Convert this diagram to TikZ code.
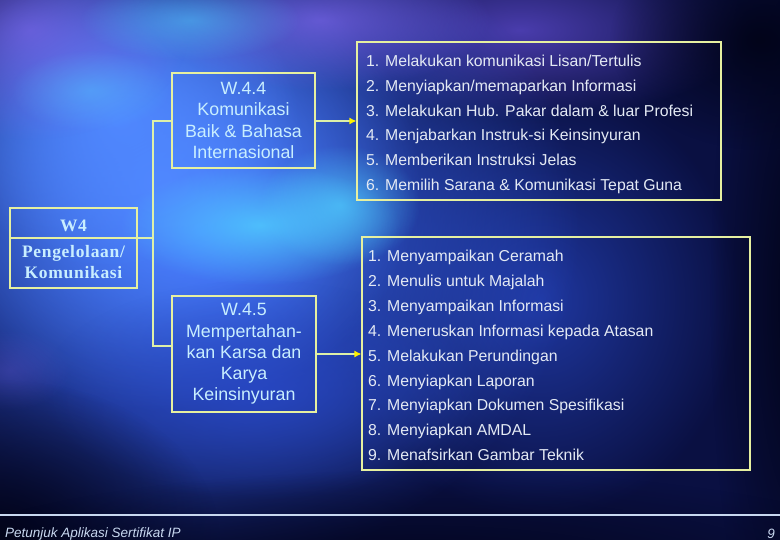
\documentclass[tikz,border=0pt]{standalone}
\usepackage{fontspec}
\setmainfont{Liberation Sans}
\newfontfamily\serifb[LetterSpace=4]{Liberation Serif}
\usetikzlibrary{arrows.meta,fadings,calc}
\tikzfading[name=myglow, inner color=transparent!0, outer color=transparent!100]
\definecolor{bgbase}{HTML}{0A1042}
\definecolor{gblue}{HTML}{3C6CFF}
\definecolor{gbright}{HTML}{5088FF}
\definecolor{gcyan}{HTML}{50D0FF}
\definecolor{gviolet}{HTML}{8068F0}
\definecolor{gpurple}{HTML}{5A48C8}
\definecolor{gmid}{HTML}{2848C8}
\definecolor{gdark}{HTML}{02041A}
\definecolor{boxline}{HTML}{E6F0A0}
\definecolor{connline}{HTML}{DDF0A8}
\definecolor{boxtext}{HTML}{C8EEFF}
\definecolor{listtext}{HTML}{E4EAF4}
\definecolor{foot}{HTML}{C8D8F0}
\tikzset{
  wbox/.style={draw=boxline, line width=1.2pt, align=center, text=boxtext,
    font=\fontsize{17.8}{21.2}\selectfont, inner sep=0pt},
  listbox/.style={draw=boxline, line width=1.2pt, inner sep=0pt},
  item/.style={anchor=base west, text=listtext, font=\fontsize{15.8}{18}\selectfont, inner sep=0pt},
  conn/.style={draw=connline, line width=1.2pt},
  arr/.style={conn, -{Latex[length=7pt,width=7pt,color=yellow]}},
  glow/.style={path fading=myglow}
}
\begin{document}
\begin{tikzpicture}[x=1pt,y=-1pt]
\useasboundingbox (0,0) rectangle (780,540);
% background
\fill[bgbase] (0,0) rectangle (780,540);
\fill[glow, gmid, opacity=0.7] (540,300) ellipse (200 and 220);
\fill[glow, gpurple, opacity=0.8] (520,30) ellipse (230 and 90);
\fill[glow, gblue] (200,230) ellipse (380 and 340);
\fill[glow, gbright] (160,180) ellipse (260 and 230);
\fill[glow, gbright] (120,120) ellipse (180 and 150);
\fill[glow, gviolet, opacity=0.7] (30,30) ellipse (160 and 110);
\fill[glow, gviolet, opacity=0.7] (320,20) ellipse (170 and 70);
\fill[glow, gviolet, opacity=0.25] (10,370) ellipse (60 and 40);
\fill[glow, gcyan, opacity=0.8] (260,225) ellipse (140 and 60);
\fill[glow, gcyan, opacity=0.7] (340,205) ellipse (80 and 60);
\fill[glow, gcyan, opacity=0.5] (190,20) ellipse (110 and 40);
\fill[glow, gcyan, opacity=0.4] (90,90) ellipse (80 and 40);
\fill[glow, gmid, opacity=0.8] (260,390) ellipse (220 and 110);
\fill[glow, gdark] (800,300) ellipse (90 and 420);
\fill[glow, gdark] (0,540) ellipse (220 and 160);
\fill[glow, gdark] (420,580) ellipse (520 and 110);
\fill[glow, gdark] (760,40) ellipse (150 and 110);

% boxes
\node[wbox, minimum width=143pt, minimum height=95pt] (w44) at (243.5,120.5)
  {W.4.4\\Komunikasi\\Baik \& Bahasa\\Internasional};
\node[wbox, minimum width=144pt, minimum height=116pt] (w45) at (244,354)
  {W.4.5\\Mempertahan-\\kan Karsa dan\\Karya\\Keinsinyuran};
\node[draw=boxline, line width=1.2pt, minimum width=127pt, minimum height=80pt, inner sep=0pt] (w4) at (73.5,248) {};
\draw[boxline, line width=1.2pt] (w4.west |- 0,238) -- (w4.east |- 0,238);
\node[text=boxtext, font=\serifb\bfseries\fontsize{17.5}{21}\selectfont] (w4a) at (73.5,226) {W4};
\node[text=boxtext, font=\serifb\bfseries\fontsize{17.5}{21}\selectfont, align=center] (w4b) at (73.5,262)
  {Pengelolaan/\\Komunikasi};

\node[listbox, minimum width=364pt, minimum height=158pt] (L1) at (539,121) {};
\node[listbox, minimum width=388pt, minimum height=233pt] (L2) at (556,353.5) {};

\foreach \t [count=\i] in {1. Melakukan komunikasi Lisan/Tertulis,
  2. Menyiapkan/memaparkan Informasi,
  3. Melakukan Hub. Pakar dalam \& luar Profesi,
  4. Menjabarkan Instruk-si Keinsinyuran,
  5. Memberikan Instruksi Jelas,
  6. Memilih Sarana \& Komunikasi Tepat Guna}
  \node[item] (a\i) at (366, {66.5+24.8*(\i-1)}) {\t};

\foreach \t [count=\i] in {1. Menyampaikan Ceramah,
  2. Menulis untuk Majalah,
  3. Menyampaikan Informasi,
  4. Meneruskan Informasi kepada Atasan,
  5. Melakukan Perundingan,
  6. Menyiapkan Laporan,
  7. Menyiapkan Dokumen Spesifikasi,
  8. Menyiapkan AMDAL,
  9. Menafsirkan Gambar Teknik}
  \node[item] (b\i) at (368, {261.5+24.9*(\i-1)}) {\t};

% connectors
\coordinate (bt) at (153,121);
\coordinate (bb) at (153,346);
\draw[conn] (w44.west |- bt) -- (bt) -- (bb) -- (w45.west |- bb);
\draw[conn] (w4.east |- 0,238) -- (bt |- 0,238);
\draw[arr] (w44.east |- bt) -- (L1.west |- bt);
\draw[arr] (w45.east) -- (L2.west |- w45.east);

% footer
\coordinate (fl) at (0,515);
\coordinate (fr) at (780,515);
\draw[foot, line width=2pt] (fl) -- (fr);
\node[anchor=west, text=foot, font=\itshape\fontsize{13.5}{15}\selectfont, inner sep=0pt] (ft) at (5,534) {Petunjuk Aplikasi Sertifikat IP};
\node[anchor=east, text=foot, font=\itshape\fontsize{13.5}{15}\selectfont, inner sep=0pt] (pg) at (775,534) {9};
\end{tikzpicture}
\end{document}
